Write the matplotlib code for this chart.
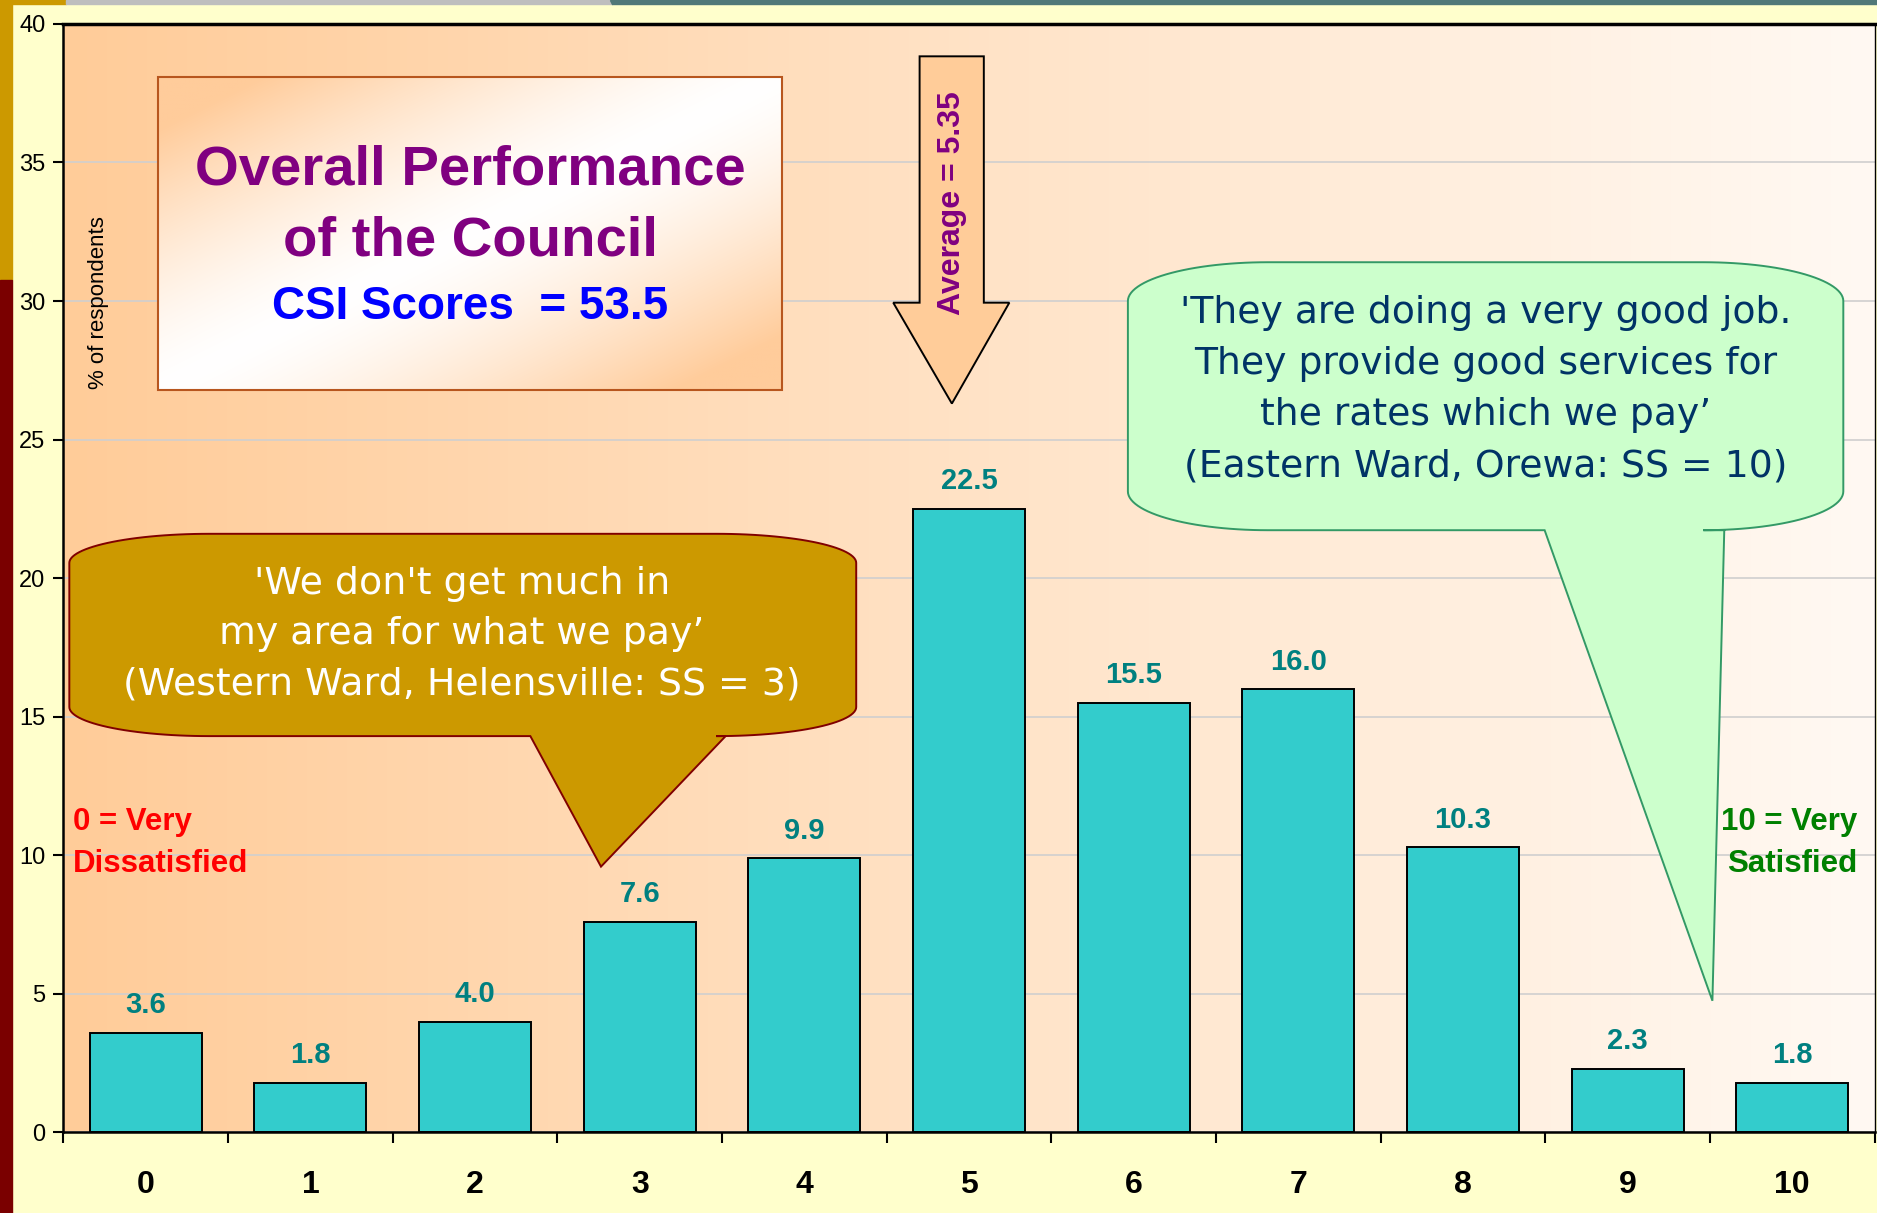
import numpy as np
import matplotlib
matplotlib.use("Agg")
import matplotlib.pyplot as plt
from matplotlib.patches import Polygon, Rectangle

# Datos del grafico
scores = list(range(11))
pct = [3.6, 1.8, 4.0, 7.6, 9.9, 22.5, 15.5, 16.0, 10.3, 2.3, 1.8]
y_ticks = [0, 5, 10, 15, 20, 25, 30, 35, 40]

title_lines = ["Overall Performance", "of the Council"]
csi_text = "CSI Scores  = 53.5"
avg_text = "Average = 5.35"
quote_low = "'We don't get much in\nmy area for what we pay’\n(Western Ward, Helensville: SS = 3)"
quote_high = ("'They are doing a very good job.\nThey provide good services for\n"
              "the rates which we pay’\n(Eastern Ward, Orewa: SS = 10)")

W, H = 1877, 1213
fig = plt.figure(figsize=(W / 100, H / 100), dpi=100)
fig.patch.set_facecolor("#FFFFCC")

# bordes decorativos de la diapositiva
def fig_rect(x0, y0, x1, y1, color):
    # coordenadas en pixeles desde arriba-izquierda
    fig.patches.append(Rectangle((x0 / W, 1 - y1 / H), (x1 - x0) / W, (y1 - y0) / H,
                                 transform=fig.transFigure, color=color, zorder=0))

fig_rect(0, 0, 12, 280, "#CC9900")
fig_rect(0, 280, 12, H, "#7A0000")
fig_rect(0, 0, 66, 4, "#CC9900")
fig_rect(66, 0, 612, 4, "#BEBEBE")
fig.patches.append(Polygon([(610 / W, 1), (W / W, 1), (1, 1 - 4 / H), (612 / W, 1 - 4 / H)],
                           closed=True, transform=fig.transFigure, color="#507878", zorder=0))

ax = fig.add_axes([63.4 / W, 1 - 1132.4 / H, (1874.6 - 63.4) / W, (1132.4 - 23.9) / H])

# fondo degradado del area de trazado
g = np.linspace(0, 1, 256)
c_left = np.array([255, 204, 153]) / 255
c_right = np.array([255, 249, 243]) / 255
bg = c_left + (c_right - c_left) * g[:, None]
ax.imshow(bg[None, :, :], extent=(-0.5, 10.5, 0, 40), aspect="auto", zorder=0,
          interpolation="bilinear")

ax.yaxis.grid(True, color="#CFCFCF", lw=1.2)
ax.set_axisbelow(True)

ax.bar(scores, pct, width=0.68, color="#33CCCC", edgecolor="black", lw=1.4, zorder=2)
for x, v in zip(scores, pct):
    ax.annotate(f"{v:.1f}", (x, v), xytext=(0, 14), textcoords="offset points",
                ha="center", va="baseline", color="#008080", fontsize=21,
                fontweight="bold", family="Liberation Sans", zorder=6)

# caja del titulo
bx0, bx1, by0, by1 = 0.075, 3.864, 26.78, 38.1
u, v = np.meshgrid(np.linspace(0, 1, 300), np.linspace(0, 1, 200))
t = np.clip(np.abs(u - v) * 1.2, 0, 1) ** 1.4
peach = np.array([255, 204, 155]) / 255
box_img = 1 - (1 - peach) * t[:, :, None]
ax.imshow(box_img, extent=(bx0, bx1, by0, by1), origin="lower", aspect="auto",
          zorder=3, interpolation="bilinear")
ax.add_patch(Rectangle((bx0, by0), bx1 - bx0, by1 - by0, fill=False,
                       edgecolor="#B8561E", lw=1.5, zorder=3.1))
ax.text(1.97, 34.7, title_lines[0], ha="center", va="center", color="#800080",
        fontsize=40.5, fontweight="bold", family="Liberation Sans", zorder=5)
ax.text(1.97, 32.15, title_lines[1], ha="center", va="center", color="#800080",
        fontsize=40.5, fontweight="bold", family="Liberation Sans", zorder=5)
ax.text(1.97, 29.8, csi_text, ha="center", va="center", color="#0000FF",
        fontsize=33, fontweight="bold", family="Liberation Sans", zorder=5)

# flecha del promedio
arrow = [(4.70, 38.83), (5.09, 38.83), (5.09, 29.94), (5.245, 29.94),
         (4.896, 26.3), (4.54, 29.94), (4.70, 29.94)]
ax.add_patch(Polygon(arrow, closed=True, facecolor="#FFCC99", edgecolor="black",
                     lw=1.4, zorder=4))
ax.text(4.896, 33.55, avg_text, rotation=90, ha="center", va="center", color="#800080",
        fontsize=23, fontweight="bold", family="Liberation Sans", zorder=5)


def bubble(x0, x1, y0, y1, rx, ry, base, tip):
    pts = []
    a = np.linspace(np.pi, 1.5 * np.pi, 30)
    pts += list(zip(x0 + rx + rx * np.cos(a), y0 + ry + ry * np.sin(a)))
    pts += [(base[0], y0), tip, (base[1], y0)]
    a = np.linspace(1.5 * np.pi, 2 * np.pi, 30)
    pts += list(zip(x1 - rx + rx * np.cos(a), y0 + ry + ry * np.sin(a)))
    a = np.linspace(0, 0.5 * np.pi, 30)
    pts += list(zip(x1 - rx + rx * np.cos(a), y1 - ry + ry * np.sin(a)))
    a = np.linspace(0.5 * np.pi, np.pi, 30)
    pts += list(zip(x0 + rx + rx * np.cos(a), y1 - ry + ry * np.sin(a)))
    return pts


low = bubble(-0.464, 4.315, 14.3, 21.6, 0.85, 1.05, (2.336, 3.522), (2.765, 9.59))
ax.add_patch(Polygon(low, closed=True, facecolor="#CC9900", edgecolor="#800000",
                     lw=1.4, zorder=4))
ax.text(1.92, 17.98, quote_low, ha="center", va="center", color="white", fontsize=27.3,
        family="DejaVu Sans", linespacing=1.52, zorder=5)

high = bubble(5.965, 10.31, 21.73, 31.4, 0.85, 1.4, (8.496, 9.587), (9.515, 4.75))
ax.add_patch(Polygon(high, closed=True, facecolor="#CCFFCC", edgecolor="#339966",
                     lw=1.4, zorder=4))
ax.text(8.14, 26.8, quote_high, ha="center", va="center", color="#003366", fontsize=27.2,
        family="DejaVu Sans", linespacing=1.55, zorder=5)

ax.text(-0.442, 10.45, "0 = Very\nDissatisfied", ha="left", va="center", color="#FF0000",
        fontsize=22.5, fontweight="bold", family="Liberation Sans", linespacing=1.5, zorder=5)
ax.text(10.395, 10.45, "10 = Very\nSatisfied", ha="right", va="center", color="#008000",
        fontsize=22.5, fontweight="bold", family="Liberation Sans", linespacing=1.5,
        multialignment="right", zorder=5)

ax.text(0.0192, 0.749, "% of respondents", transform=ax.transAxes, rotation=90,
        ha="center", va="center", fontsize=16, family="Liberation Sans", zorder=5)

# ejes
ax.set_xlim(-0.5, 10.5)
ax.set_ylim(0, 40)
ax.set_yticks(y_ticks)
ax.set_xticks(scores)
ax.set_xticklabels([str(s) for s in scores])
ax.set_xticks(np.arange(-0.5, 11, 1), minor=True)
ax.tick_params(axis="x", which="major", length=0, pad=27, labelsize=23)
ax.tick_params(axis="x", which="minor", length=8, width=1.5, direction="out")
ax.tick_params(axis="y", length=7, width=1.5, direction="out", pad=6, labelsize=17)
for lab in ax.get_xticklabels():
    lab.set_fontweight("bold")
    lab.set_family("Liberation Sans")
for lab in ax.get_yticklabels():
    lab.set_family("Liberation Sans")

ax.spines["left"].set_linewidth(1.8)
ax.spines["bottom"].set_linewidth(1.8)
ax.spines["top"].set_linewidth(2.5)
ax.spines["right"].set_linewidth(1.0)
for s in ax.spines.values():
    s.set_zorder(7)

fig.savefig("out.png", dpi=100, facecolor=fig.get_facecolor())
